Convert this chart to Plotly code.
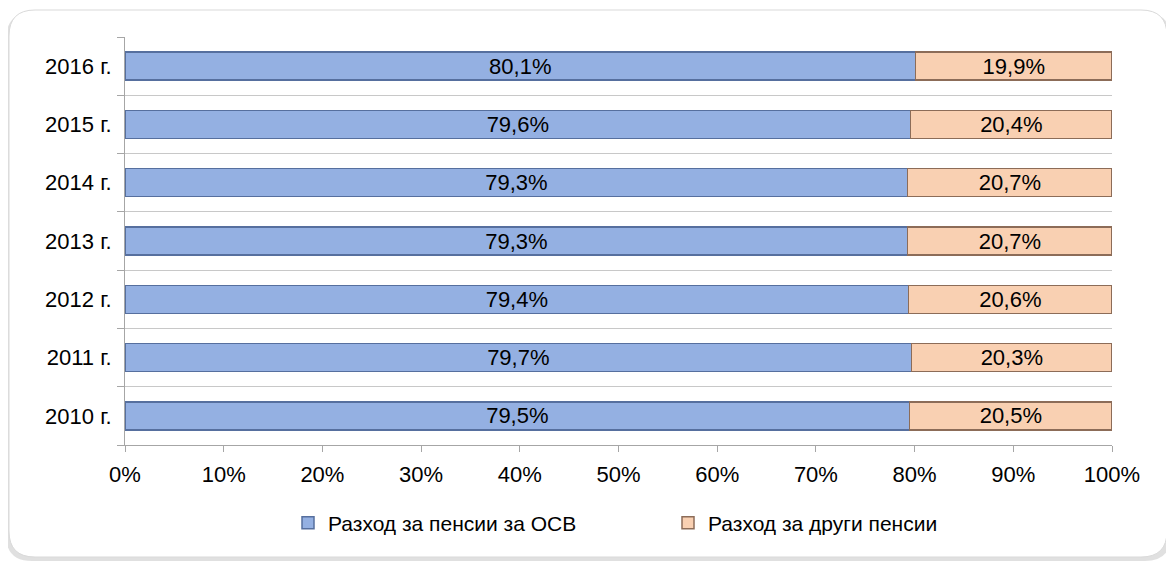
import plotly.graph_objects as go

categories = ["2010 г.", "2011 г.", "2012 г.", "2013 г.", "2014 г.", "2015 г.", "2016 г."]
osv_values = [79.5, 79.7, 79.4, 79.3, 79.3, 79.6, 80.1]
other_values = [20.5, 20.3, 20.6, 20.7, 20.7, 20.4, 19.9]
series_names = ["Разход за пенсии за ОСВ", "Разход за други пенсии"]
x_ticks = [0, 10, 20, 30, 40, 50, 60, 70, 80, 90, 100]

# the page body adds an 8px offset; the figure is sized to fill the rest
OFF = 8
W, H = 1174 - OFF, 562 - OFF
ML, MR, MT, MB = 125 - OFF, 1174 - 1112, 37 - OFF, 562 - 445
PW, PH = W - ML - MR, H - MT - MB


def px(x):
    # page pixel -> paper fraction
    return (x - OFF - ML) / PW


def py(y):
    return (H - MB - (y - OFF)) / PH


def rounded_rect(x0, y0, x1, y1, r):
    rx, ry = r / PW, r / PH
    X0, X1 = px(x0), px(x1)
    Y0, Y1 = py(y0), py(y1)  # Y0 top, Y1 bottom
    return (f"M {X0 + rx},{Y0} L {X1 - rx},{Y0} Q {X1},{Y0} {X1},{Y0 - ry} "
            f"L {X1},{Y1 + ry} Q {X1},{Y1} {X1 - rx},{Y1} "
            f"L {X0 + rx},{Y1} Q {X0},{Y1} {X0},{Y1 + ry} "
            f"L {X0},{Y0 - ry} Q {X0},{Y0} {X0 + rx},{Y0} Z")


def fmt(v):
    return f"{v:.1f}%".replace(".", ",")


FONT = "Liberation Sans, Arial, sans-serif"

fig = go.Figure()
fig.add_trace(go.Bar(
    y=categories, x=osv_values, orientation="h", name=series_names[0],
    text=[fmt(v) for v in osv_values], textposition="inside",
    insidetextanchor="middle", constraintext="none",
    textfont=dict(family=FONT, size=22, color="#000000"),
    marker=dict(color="#94B0E2", line=dict(color="#566F9E", width=1.5)),
    width=0.48,
))
fig.add_trace(go.Bar(
    y=categories, x=other_values, orientation="h", name=series_names[1],
    text=[fmt(v) for v in other_values], textposition="inside",
    insidetextanchor="middle", constraintext="none",
    textfont=dict(family=FONT, size=22, color="#000000"),
    marker=dict(color="#F9D0B2", line=dict(color="#8C6C58", width=1.5)),
    width=0.48,
))

shapes = [
    dict(type="path", xref="paper", yref="paper",
         path=rounded_rect(6, 13, 1171, 561, 26),
         fillcolor="rgba(0,0,0,0.12)", line=dict(width=0), layer="below"),
    dict(type="path", xref="paper", yref="paper",
         path=rounded_rect(9, 10, 1167, 557, 26),
         fillcolor="#FFFFFF", line=dict(color="#D9D9D9", width=1), layer="below"),
]

fig.update_layout(
    width=W, height=H,
    margin=dict(l=ML, r=MR, t=MT, b=MB),
    barmode="stack",
    paper_bgcolor="#FFFFFF",
    plot_bgcolor="rgba(0,0,0,0)",
    font=dict(family=FONT, size=22, color="#000000"),
    shapes=shapes,
    showlegend=True,
    legend=dict(orientation="h", x=px(288), xanchor="left", y=py(523), yanchor="middle",
                font=dict(size=21), entrywidth=335, entrywidthmode="pixels",
                traceorder="normal", bgcolor="rgba(0,0,0,0)"),
    uniformtext=dict(mode="show", minsize=22),
)
fig.update_xaxes(
    range=[0, 100], tickvals=x_ticks, ticktext=[f"{t}%" for t in x_ticks],
    showgrid=False, showline=True, linecolor="#A6A6A6", linewidth=1,
    ticks="outside", ticklen=6, tickcolor="#A6A6A6",
    ticklabelstandoff=4, zeroline=False,
    tickfont=dict(size=22),
)
fig.update_yaxes(
    type="category", categoryorder="array", categoryarray=categories,
    tickson="boundaries", showgrid=True, gridcolor="#C8C8C8", gridwidth=1,
    showline=True, linecolor="#A6A6A6", linewidth=1,
    ticks="outside", ticklen=7, tickcolor="#A6A6A6",
    ticklabelstandoff=8, tickfont=dict(size=22),
)

fig.write_html("out.html")
